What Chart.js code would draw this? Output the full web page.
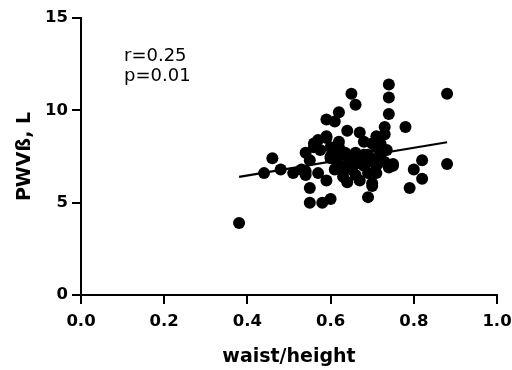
<!DOCTYPE html>
<html>
<head>
<meta charset="utf-8">
<script src="https://cdn.jsdelivr.net/npm/chart.js@4"></script>
<style>
html,body{margin:0;padding:0;background:#fff;}
#wrap{width:512px;height:370px;position:relative;}
</style>
</head>
<body>
<div id="wrap"><canvas id="c" width="512" height="370"></canvas></div>
<script>
const xTitle = "waist/height";
const yTitle = "PWVß, L";
const statLines = ["r=0.25", "p=0.01"];
const xTicks = [0, 0.2, 0.4, 0.6, 0.8, 1.0];
const yTicks = [0, 5, 10, 15];

const waistHeight = [0.38,0.44,0.46,0.48,0.51,0.54,0.54,0.54,0.55,0.55,0.58,0.60,0.56,0.56,0.57,0.59,0.59,0.57,0.59,0.59,0.61,0.62,0.65,0.66,0.62,0.64,0.67,0.68,0.71,0.73,0.74,0.74,0.74,0.78,0.88,0.88,0.82,0.80,0.82,0.79,0.75,0.69,0.70,0.60,0.635,0.68,0.72,0.735,0.75,0.74,0.71,0.68,0.65,0.63,0.635,0.70,0.67,0.61,0.67,0.71,0.72,0.615,0.70,0.73,0.72,0.62,0.60,0.575,0.55,0.53,0.65,0.69,0.66,0.64,0.69,0.70,0.72,0.73,0.66,0.64,0.62,0.63,0.69,0.66,0.71,0.60];
const pwv = [3.9,6.6,7.4,6.8,6.6,6.5,6.7,7.7,5.8,5.0,5.0,5.2,8.0,8.2,8.4,8.6,8.5,6.6,6.2,9.5,9.4,9.9,10.9,10.3,8.3,8.9,8.8,8.3,8.6,9.1,11.4,10.7,9.8,9.1,10.9,7.1,7.3,6.8,6.3,5.8,7.0,5.3,5.9,7.4,7.7,7.6,7.9,7.85,7.1,6.9,7.0,7.0,6.8,6.4,7.0,6.05,6.2,6.8,7.3,6.6,7.4,7.2,8.2,8.7,8.2,8.0,7.5,7.85,7.3,6.8,7.5,7.2,6.5,6.1,7.6,7.3,7.7,7.2,7.7,7.6,7.6,6.8,6.6,7.1,8.0,8.0];
const fitX = [0.38, 0.88];
const fitY = [6.40, 8.27];

const points = waistHeight.map((x, i) => ({x: x, y: pwv[i]}));
const fitLine = fitX.map((x, i) => ({x: x, y: fitY[i]}));

const FAM = '"DejaVu Sans", Verdana, sans-serif';

const statText = {
  id: 'statText',
  afterDraw(chart) {
    const ctx = chart.ctx;
    ctx.save();
    ctx.fillStyle = '#000';
    ctx.font = '18px ' + FAM;
    ctx.textBaseline = 'alphabetic';
    ctx.textAlign = 'left';
    statLines.forEach((t, i) => ctx.fillText(t, 124, 61 + i * 20));
    ctx.restore();
  }
};

// outward tick marks drawn from the scales' own pixel mapping
const tickMarks = {
  id: 'tickMarks',
  afterDraw(chart) {
    const ctx = chart.ctx;
    const xs = chart.scales.x, ys = chart.scales.y;
    const len = 9;
    ctx.save();
    ctx.strokeStyle = '#000';
    ctx.lineWidth = 2;
    ctx.lineCap = 'butt';
    ctx.beginPath();
    xs.ticks.forEach(t => {
      const px = Math.round(xs.getPixelForValue(t.value));
      ctx.moveTo(px, xs.top);
      ctx.lineTo(px, xs.top + len);
    });
    ys.ticks.forEach(t => {
      const py = Math.round(ys.getPixelForValue(t.value));
      ctx.moveTo(ys.right, py);
      ctx.lineTo(ys.right - len, py);
    });
    ctx.stroke();
    ctx.restore();
  }
};

const tickFont = {family: FAM, size: 16.5, weight: 'bold'};
const titleFont = {family: FAM, size: 19, weight: 'bold'};

new Chart(document.getElementById('c'), {
  type: 'scatter',
  data: {
    datasets: [
      {data: points, backgroundColor: '#000', borderWidth: 0, pointRadius: 6, pointHoverRadius: 6},
      {type: 'line', data: fitLine, borderColor: '#000', borderWidth: 2.2, pointRadius: 0, fill: false, showLine: true}
    ]
  },
  options: {
    responsive: false,
    animation: false,
    events: [],
    layout: {padding: {top: 18, right: 15, left: 0, bottom: 0}},
    plugins: {legend: {display: false}, tooltip: {enabled: false}},
    scales: {
      x: {
        type: 'linear', min: 0, max: 1,
        afterFit(a) { a.height = 75; a.paddingLeft = 0; a.paddingRight = 0; },
        afterBuildTicks(a) { a.ticks = xTicks.map(v => ({value: v})); },
        ticks: {color: '#000', font: tickFont, padding: 8, callback: v => Number(v).toFixed(1)},
        grid: {display: true, drawOnChartArea: false, drawTicks: true, tickLength: 9, color: '#000', tickColor: '#000', lineWidth: 2, tickWidth: 2},
        border: {display: true, color: '#000', width: 2},
        title: {display: true, text: xTitle, color: '#000', font: titleFont, padding: {top: 4, bottom: 2}}
      },
      y: {
        type: 'linear', min: 0, max: 15,
        afterFit(a) { a.width = 81; a.paddingTop = 0; a.paddingBottom = 0; },
        afterBuildTicks(a) { a.ticks = yTicks.map(v => ({value: v})); },
        ticks: {color: '#000', font: tickFont, padding: 4},
        grid: {display: true, drawOnChartArea: false, drawTicks: true, tickLength: 9, color: '#000', tickColor: '#000', lineWidth: 2, tickWidth: 2},
        border: {display: true, color: '#000', width: 2},
        title: {display: true, text: yTitle, color: '#000', font: titleFont, padding: {top: 14, bottom: 0}}
      }
    }
  },
  plugins: [statText, tickMarks]
});
</script>
</body>
</html>
